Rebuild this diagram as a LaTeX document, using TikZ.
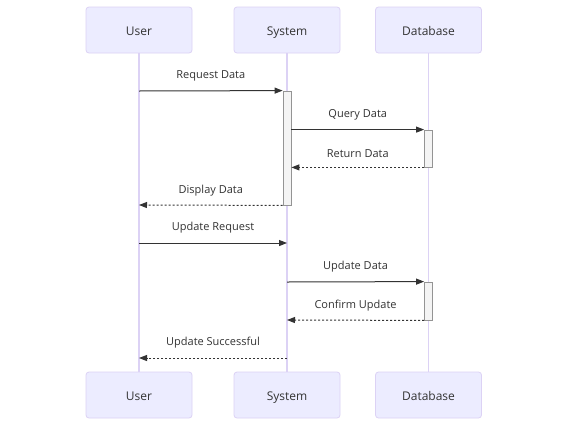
\documentclass[tikz,border=0pt]{standalone}
\usepackage{fontspec}
\setmainfont{Open Sans}
\usetikzlibrary{arrows.meta}
\definecolor{actfill}{HTML}{ECECFF}
\definecolor{actline}{HTML}{DCD2F5}
\definecolor{txt}{HTML}{333333}
\definecolor{actvfill}{HTML}{F4F4F4}
\definecolor{actvline}{HTML}{666666}
\tikzset{
  actor/.style={draw=actline, fill=actfill, rounded corners=3pt, minimum width=106pt, minimum height=46pt, inner sep=0pt, text=txt, font=\fontsize{12}{14}\selectfont, line width=0.8pt, text height=10pt, text depth=0pt},
  lifeline/.style={draw=actline, line width=1.1pt},
  actv/.style={draw=actvline!70, fill=actvfill, minimum width=8pt, inner sep=0pt, line width=0.8pt},
  msg/.style={draw=txt, line width=1pt, -{Triangle[length=8pt,width=6pt]}},
  reply/.style={msg, dash pattern=on 2pt off 2pt},
  lbl/.style={text=txt, font=\fontsize{11}{13}\selectfont, inner sep=0pt}
}
\begin{document}
\begin{tikzpicture}[x=1pt,y=-1pt]
\useasboundingbox[fill=white] (0,0) rectangle (567,426);
\node[actor] (uT) at (139,30) {User};
\node[actor] (sT) at (287,30) {System};
\node[actor] (dT) at (428.5,30) {Database};
\node[actor] (uB) at (139,395) {User};
\node[actor] (sB) at (287,395) {System};
\node[actor] (dB) at (428.5,395) {Database};
\draw[lifeline] (uT.south) -- (uB.north);
\draw[lifeline] (sT.south) -- (sB.north);
\draw[lifeline] (dT.south) -- (dB.north);
\node[actv, minimum height=114pt] (aS) at (287,148) {};
\node[actv, minimum height=37pt] (aD1) at (428.5,148.5) {};
\node[actv, minimum height=38pt] (aD2) at (428.5,301) {};
% message end coordinates
\coordinate (u1) at (139,91);
\coordinate (u4) at (139,205);
\coordinate (u5) at (139,243);
\coordinate (s5) at (287,243);
\coordinate (s6) at (287,282);
\coordinate (s7) at (287,320);
\coordinate (u8) at (139,358);
\coordinate (s8) at (287,358);
\draw[msg] (u1) -- (aS.north west) node[lbl, midway, above=9pt] {Request Data};
\draw[msg] (aS.north east |- aD1.north) -- (aD1.north west) node[lbl, midway, above=9pt] {Query Data};
\draw[reply] (aD1.south west) -- (aS.east |- aD1.south) node[lbl, midway, above=9pt] {Return Data};
\draw[reply] (aS.south west) -- (u4) node[lbl, midway, above=9pt] {Display Data};
\draw[msg] (u5) -- (s5) node[lbl, midway, above=9pt] {Update Request};
\draw[msg] (s6) -- (aD2.north west) node[lbl, midway, above=9pt] {Update Data};
\draw[reply] (aD2.south west) -- (s7) node[lbl, midway, above=9pt] {Confirm Update};
\draw[reply] (s8) -- (u8) node[lbl, midway, above=9pt] {Update Successful};
\end{tikzpicture}
\end{document}
